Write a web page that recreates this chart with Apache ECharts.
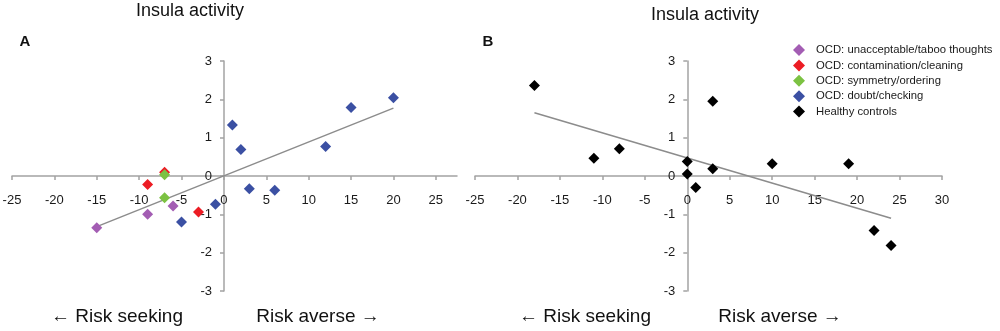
<!DOCTYPE html>
<html>
<head>
<meta charset="utf-8">
<script src="https://cdn.jsdelivr.net/npm/echarts@6/dist/echarts.min.js"></script>
<style>
  html, body { margin: 0; padding: 0; background: #fff; }
  #chart { width: 1000px; height: 331px; }
</style>
</head>
<body>
<div id="chart"></div>
<script>
// series names
const seriesNames = [
  'OCD: unacceptable/taboo thoughts',
  'OCD: contamination/cleaning',
  'OCD: symmetry/ordering',
  'OCD: doubt/checking',
  'Healthy controls'
];
const seriesColors = ['#a35db3', '#ec1c24', '#7cc242', '#3b50a3', '#000000'];

// panel A: risk score (x) vs insula activity (y)
const tabooPts = [[-15, -1.35], [-9, -1.0], [-6, -0.78]];
const contaminationPts = [[-7, 0.1], [-9, -0.22], [-3, -0.94]];
const symmetryPts = [[-7, 0.03], [-7, -0.57]];
const checkingPts = [[-5, -1.2], [-1, -0.74], [1, 1.33], [2, 0.69], [3, -0.33], [6, -0.37], [12, 0.77], [15, 1.79], [20, 2.04]];
const trendA = [[-15, -1.32], [20, 1.77]];

// panel B
const controlsPts = [[-18, 2.36], [-11, 0.46], [-8, 0.71], [0, 0.38], [0, 0.05], [1, -0.3], [3, 1.95], [3, 0.19], [10, 0.32], [19, 0.32], [22, -1.42], [24, -1.81]];
const trendB = [[-18, 1.65], [24, -1.1]];

// tick labels
const xTicksA = [-25, -20, -15, -10, -5, 0, 5, 10, 15, 20, 25];
const xTicksB = [-25, -20, -15, -10, -5, 0, 5, 10, 15, 20, 25, 30];

const font = "'Liberation Sans', Arial, sans-serif";
const axisGray = '#a3a3a3';

const chart = echarts.init(document.getElementById('chart'));

// axes cross at zero: shift the whole axis (line, ticks, labels) with offset
function xAxisFor(gridIndex, min, max, ticks) {
  return {
    type: 'value', gridIndex, min, max, interval: 5, offset: -115,
    splitLine: { show: false },
    axisLine: { onZero: false, lineStyle: { color: axisGray, width: 1.5 } },
    axisTick: { show: true, length: 4, lineStyle: { color: axisGray, width: 1.5 }, customValues: ticks },
    axisLabel: { color: '#1a1a1a', fontSize: 13, fontFamily: font, margin: 18, customValues: ticks }
  };
}
function yAxisFor(gridIndex, offset) {
  return {
    type: 'value', gridIndex, min: -3, max: 3, interval: 1, offset,
    splitLine: { show: false },
    axisLine: { onZero: false, lineStyle: { color: axisGray, width: 1.5 } },
    axisTick: { show: true, length: 4, lineStyle: { color: axisGray, width: 1.5 } },
    axisLabel: { color: '#1a1a1a', fontSize: 13, fontFamily: font, margin: 12 }
  };
}

function scatter(i, data, xi) {
  return {
    name: seriesNames[i], type: 'scatter', xAxisIndex: xi, yAxisIndex: xi,
    symbol: 'diamond', symbolSize: 11, data,
    itemStyle: { color: seriesColors[i], opacity: 1 }, z: 3
  };
}
function trend(data, xi) {
  return {
    type: 'line', xAxisIndex: xi, yAxisIndex: xi, data, symbol: 'none',
    lineStyle: { color: '#8c8c8c', width: 1.5 }, silent: true, z: 2
  };
}

function label(text, x, y, size, weight) {
  return {
    type: 'text', x, y,
    style: { text, fontSize: size, fontFamily: font, fontWeight: weight || 'normal', fill: '#111', align: 'center', verticalAlign: 'middle' }
  };
}

const option = {
  animation: false,
  grid: [
    { left: 12, top: 61, width: 445, height: 230, outerBoundsMode: 'none', containLabel: false },
    { left: 475, top: 61, width: 467, height: 230, outerBoundsMode: 'none', containLabel: false }
  ],
  xAxis: [xAxisFor(0, -25, 27.5, xTicksA), xAxisFor(1, -25, 30, xTicksB)],
  yAxis: [yAxisFor(0, -212), yAxisFor(1, -212.3)],
  legend: {
    orient: 'vertical', left: 793, top: 44, padding: 0,
    data: seriesNames, icon: 'diamond',
    itemWidth: 12, itemHeight: 12, itemGap: 3.4,
    textStyle: { fontSize: 11.3, fontFamily: font, color: '#1a1a1a', lineHeight: 12, padding: [0, 0, 0, 6] }
  },
  graphic: [
    label('Insula activity', 190, 11, 18),
    label('Insula activity', 705, 15, 18),
    label('A', 25, 42, 15, 'bold'),
    label('B', 488, 42, 15, 'bold'),
    label('← Risk seeking', 117, 317, 19),
    label('Risk averse →', 318, 317, 19),
    label('← Risk seeking', 585, 317, 19),
    label('Risk averse →', 780, 317, 19)
  ],
  series: [
    trend(trendA, 0),
    scatter(0, tabooPts, 0),
    scatter(1, contaminationPts, 0),
    scatter(2, symmetryPts, 0),
    scatter(3, checkingPts, 0),
    trend(trendB, 1),
    scatter(4, controlsPts, 1)
  ]
};

chart.setOption(option);
</script>
</body>
</html>
